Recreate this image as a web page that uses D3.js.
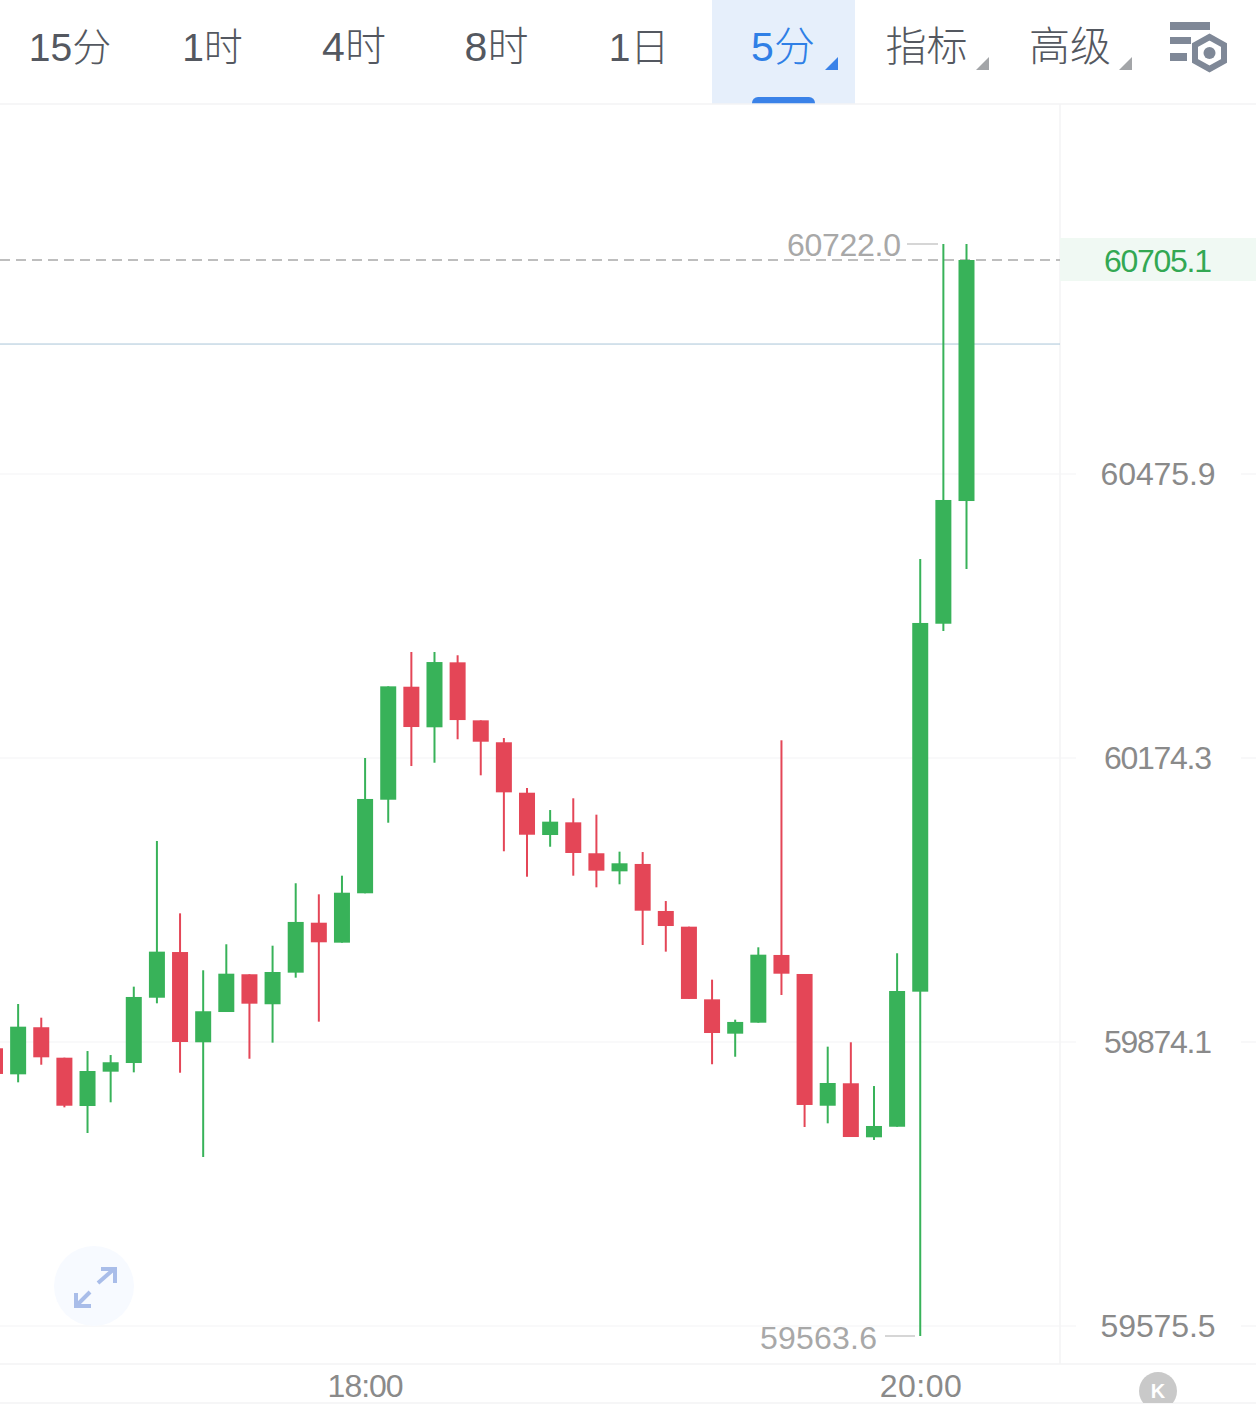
<!DOCTYPE html>
<html lang="zh">
<head>
<meta charset="utf-8">
<title>5分 K线</title>
<script src="https://cdn.jsdelivr.net/npm/d3@7/dist/d3.min.js"></script>
<style>
  html, body { margin: 0; padding: 0; background: #fff; }
  svg { display: block; }
  text { font-family: "Liberation Sans", "Noto Sans CJK SC", sans-serif; }
  .nav { font-weight: 300; fill: #545860; }
  .domain { display: none; }
</style>
</head>
<body>
<svg id="chart" width="1256" height="1414"></svg>
<script>
// Five-minute candles, 16:40 to 20:10
const times = ["16:40","16:45","16:50","16:55","17:00","17:05","17:10","17:15","17:20","17:25","17:30","17:35","17:40","17:45","17:50","17:55","18:00","18:05","18:10","18:15","18:20","18:25","18:30","18:35","18:40","18:45","18:50","18:55","19:00","19:05","19:10","19:15","19:20","19:25","19:30","19:35","19:40","19:45","19:50","19:55","20:00","20:05","20:10"];
const opens = [59867.5,59840.1,59889.7,59857.6,59806.8,59842.9,59852.0,59920.9,59969.2,59873.8,59905.8,59945.7,59914.0,59947.4,60000.2,59979.1,60031.3,60130.2,60250.0,60206.9,60275.9,60214.3,60191.0,60137.6,60092.9,60106.3,60073.6,60054.5,60062.3,60012.6,59996.0,59919.2,59882.9,59894.5,59966.1,59946.0,59807.1,59830.7,59773.9,59785.0,59927.3,60316.9,60447.2];
const highs = [59867.5,59914.3,59899.8,59857.6,59864.6,59860.4,59932.6,60086.6,60010.1,59949.9,59977.4,59945.7,59975.9,60041.9,60030.2,60049.9,60174.3,60250.4,60286.9,60286.9,60283.4,60214.3,60195.5,60142.6,60119.3,60131.7,60114.4,60075.3,60074.9,60023.1,59996.0,59940.0,59897.7,59974.2,60193.1,59946.0,59869.2,59873.8,59827.8,59967.9,60385.6,60722.0,60722.0];
const lows = [59840.5,59831.7,59850.2,59805.4,59778.4,59810.7,59842.2,59915.0,59841.8,59753.2,59905.8,59856.5,59873.4,59942.1,59895.6,59979.1,60031.3,60105.9,60165.8,60169.3,60194.2,60156.0,60075.7,60048.8,60080.5,60049.9,60037.6,60040.8,59976.6,59969.6,59919.6,59850.7,59858.6,59894.5,59923.8,59784.7,59788.6,59774.2,59771.1,59785.0,59563.6,60309.2,60375.0];
const closes = [59840.5,59890.3,59858.0,59807.1,59843.6,59852.8,59921.7,59969.6,59874.1,59906.6,59946.3,59914.6,59948.1,60001.0,59979.5,60031.9,60131.0,60250.4,60207.2,60276.2,60214.6,60191.6,60138.0,60093.2,60107.0,60073.9,60055.2,60063.0,60012.9,59996.7,59919.6,59883.6,59895.3,59966.4,59946.3,59807.9,59831.0,59774.2,59785.8,59928.0,60317.7,60448.3,60705.1];

const priceTicks = [60475.9, 60174.3, 59874.1, 59575.5];
const timeTicks = ["18:00", "20:00"];
const lastPrice = 60705.1;
const referencePrice = 60615.1;
const maxPrice = 60722.0;
const minPrice = 59563.6;

const tabs = ["15分", "1时", "4时", "8时", "1日", "5分", "指标", "高级"];
const activeTab = "5分";
const dropdownTabs = ["5分", "指标", "高级"];

const GREEN = "#38b259", RED = "#e44657", BLUE = "#3a82e8";
const plotRight = 1060, plotTop = 104, plotBottom = 1364, axisBottom = 1403;

const svg = d3.select("#chart");

// Price scale with the axis labels as knots: the axis steps are rounded, so it is piecewise.
const y = d3.scaleLinear()
  .domain([minPrice, 59575.5, 59874.1, 60174.3, 60475.9, lastPrice, maxPrice])
  .range([1336, 1326, 1042, 758, 474, 260, 244]);
const x = d3.scalePoint().domain(times).range([-5, 966.5]);

// Numerals set with a narrow "1", as the app font does
const numeralWidth = s => s.includes("1") ? 108 : 115;

// Toolbar
const tabCentres = { "15分": 70, "1时": 212.5, "4时": 354, "8时": 496.5, "1日": 639, "5分": 783, "指标": 926.5, "高级": 1070 };
const caretX = { "5分": 825, "指标": 976, "高级": 1119 };
svg.append("rect").attr("x", 712).attr("y", 0).attr("width", 143).attr("height", 104).attr("fill", "#e6effb");
svg.append("path").attr("d", "M752,104V103a6,6 0 0 1 6,-6H809a6,6 0 0 1 6,6V104Z").attr("fill", BLUE);
svg.selectAll("text.nav").data(tabs).join("text")
  .attr("class", "nav")
  .attr("x", d => tabCentres[d]).attr("y", 47)
  .attr("text-anchor", "middle").attr("dominant-baseline", "central")
  .attr("font-size", d => d.includes("1") ? 39 : 41)
  .style("fill", d => d === activeTab ? "#2f7fe6" : null)
  .text(d => d);
svg.selectAll("path.caret").data(dropdownTabs).join("path")
  .attr("class", "caret")
  .attr("transform", d => `translate(${caretX[d]},70)`)
  .attr("d", "M0,0H13V-13Z")
  .attr("fill", d => d === activeTab ? BLUE : "#a3a5a8");

// Settings icon
const icon = svg.append("g").attr("fill", "#7f8897");
icon.append("rect").attr("x", 1170).attr("y", 22).attr("width", 40).attr("height", 8);
icon.append("rect").attr("x", 1170).attr("y", 37).attr("width", 21).attr("height", 7);
icon.append("rect").attr("x", 1170).attr("y", 53).attr("width", 17).attr("height", 8);
icon.append("path")
  .attr("d", "M1209.5,37L1224,45V61L1209.5,69L1195,61V45Z")
  .attr("fill", "none").attr("stroke", "#7f8897").attr("stroke-width", 6);
icon.append("circle").attr("cx", 1209.5).attr("cy", 53).attr("r", 6);

// Frame
const frame = svg.append("g").attr("stroke", "#f3f3f5").attr("stroke-width", 1.5);
frame.append("line").attr("x1", 0).attr("x2", 1256).attr("y1", plotTop).attr("y2", plotTop);
frame.append("line").attr("x1", 0).attr("x2", 1256).attr("y1", plotBottom).attr("y2", plotBottom);
frame.append("line").attr("x1", 0).attr("x2", 1256).attr("y1", axisBottom).attr("y2", axisBottom);
frame.append("line").attr("x1", plotRight).attr("x2", plotRight).attr("y1", plotTop).attr("y2", plotBottom);

// Grid lines, broken around the price labels
const grid = svg.append("g").attr("stroke", "#f3f3f5").attr("stroke-width", 1.2);
grid.selectAll("line.left").data(priceTicks).join("line").attr("class", "left")
  .attr("x1", 0).attr("x2", 1076).attr("y1", d => y(d)).attr("y2", d => y(d));
grid.selectAll("line.right").data(priceTicks).join("line").attr("class", "right")
  .attr("x1", 1241).attr("x2", 1256).attr("y1", d => y(d)).attr("y2", d => y(d));

// Expand button
svg.append("circle").attr("cx", 94).attr("cy", 1286).attr("r", 40).attr("fill", "#f7faff");
svg.append("path")
  .attr("d", "M98,1283L114,1269M101,1269H115V1283M90,1292L76,1306M76,1293V1306H91")
  .attr("fill", "none").attr("stroke", "#a9bde9").attr("stroke-width", 4);

// Reference lines
svg.append("line").attr("x1", 0).attr("x2", plotRight)
  .attr("y1", y(referencePrice)).attr("y2", y(referencePrice))
  .attr("stroke", "#a9c6d8").attr("stroke-width", 1);
svg.append("line").attr("x1", 0).attr("x2", plotRight)
  .attr("y1", y(lastPrice)).attr("y2", y(lastPrice))
  .attr("stroke", "#a9a9a9").attr("stroke-width", 1.5).attr("stroke-dasharray", "10 6");

// Candles
const candles = times.map((t, i) => ({ t, o: opens[i], h: highs[i], l: lows[i], c: closes[i] }));
const colour = d => d.c >= d.o ? GREEN : RED;
const candle = svg.append("g").attr("class", "candles").selectAll("g").data(candles).join("g");
candle.append("line")
  .attr("x1", d => x(d.t)).attr("x2", d => x(d.t))
  .attr("y1", d => y(d.h)).attr("y2", d => y(d.l))
  .attr("stroke", colour).attr("stroke-width", 2);
candle.append("rect")
  .attr("x", d => x(d.t) - 8).attr("width", 16)
  .attr("y", d => y(Math.max(d.o, d.c)))
  .attr("height", d => Math.abs(y(d.o) - y(d.c)))
  .attr("fill", colour);

// Session high and low
const extremes = [
  { value: maxPrice, textEnd: 901, width: 114, dy: 1, x1: 907, x2: 938 },
  { value: minPrice, textEnd: 877, width: 117, dy: 2, x1: 885, x2: 915 }
];
const ext = svg.append("g").selectAll("g").data(extremes).join("g");
ext.append("text")
  .attr("x", d => d.textEnd).attr("y", d => y(d.value) + d.dy)
  .attr("text-anchor", "end").attr("dominant-baseline", "central")
  .attr("textLength", d => d.width).attr("lengthAdjust", "spacing")
  .attr("font-size", 32).attr("fill", "#a8a8a8")
  .text(d => d.value.toFixed(1));
ext.append("line")
  .attr("x1", d => d.x1).attr("x2", d => d.x2)
  .attr("y1", d => y(d.value)).attr("y2", d => y(d.value))
  .attr("stroke", "#c8c8c8").attr("stroke-width", 1.5);

// Price axis
const priceFormat = d3.format(".1f");
const yAxis = svg.append("g")
  .attr("transform", "translate(1158,-1)")
  .call(d3.axisRight(y).tickValues(priceTicks).tickSize(0).tickPadding(0).tickFormat(priceFormat));
yAxis.selectAll("text").attr("x", 0).attr("dy", null)
  .attr("text-anchor", "middle").attr("dominant-baseline", "central")
  .attr("textLength", d => numeralWidth(priceFormat(d))).attr("lengthAdjust", "spacing")
  .style("font-family", "inherit").style("font-size", "32px").style("fill", "#8a8a8a");

// Last price tag
svg.append("rect").attr("x", plotRight).attr("y", 238).attr("width", 196).attr("height", 43).attr("fill", "#f0f9f3");
svg.append("text")
  .attr("x", 1158).attr("y", y(lastPrice) + 1)
  .attr("text-anchor", "middle").attr("dominant-baseline", "central")
  .attr("textLength", numeralWidth(lastPrice.toFixed(1))).attr("lengthAdjust", "spacing")
  .attr("font-size", 32).attr("fill", "#33a853")
  .text(lastPrice.toFixed(1));

// Time axis
const xAxis = svg.append("g")
  .attr("transform", "translate(0,1386)")
  .call(d3.axisBottom(x).tickValues(timeTicks).tickSize(0).tickPadding(0));
xAxis.selectAll("text").attr("y", 0).attr("dy", null)
  .attr("text-anchor", "middle").attr("dominant-baseline", "central")
  .attr("textLength", d => d === "18:00" ? 76 : 82).attr("lengthAdjust", "spacing")
  .style("font-family", "inherit").style("font-size", "32px").style("fill", "#8a8a8a");

// Collapse button, cut by the bottom rule
svg.append("clipPath").attr("id", "kClip").append("rect")
  .attr("x", 1130).attr("y", 1365).attr("width", 60).attr("height", 38);
const k = svg.append("g").attr("clip-path", "url(#kClip)");
k.append("circle").attr("cx", 1158).attr("cy", 1391).attr("r", 19).attr("fill", "#c9c9c9");
k.append("text").attr("x", 1158).attr("y", 1391)
  .attr("text-anchor", "middle").attr("dominant-baseline", "central")
  .attr("font-size", 20).attr("font-weight", 700).attr("fill", "#fff").text("K");
</script>
</body>
</html>
